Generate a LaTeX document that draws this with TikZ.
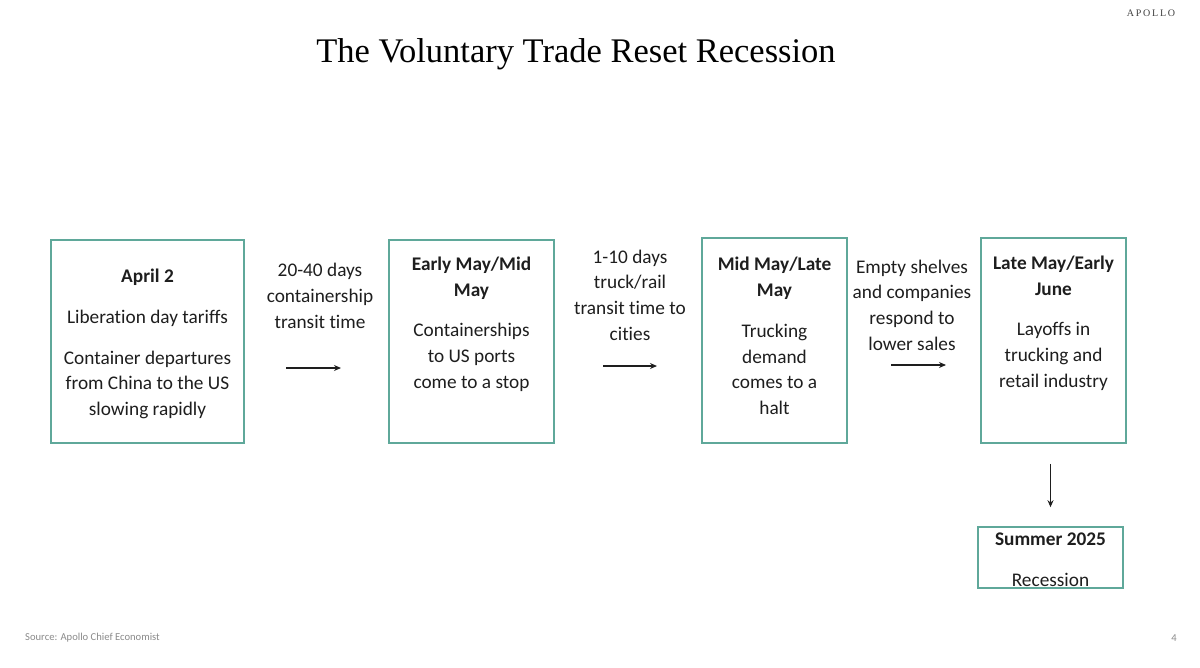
\documentclass[tikz,border=0pt]{standalone}
\usepackage{fontspec}
\setmainfont{Carlito}[Ligatures=NoCommon]
\newfontfamily\titlefont{Liberation Serif}
\usetikzlibrary{shapes,arrows,arrows.meta}
\definecolor{apolloteal}{HTML}{5FA89A}
\definecolor{inkgray}{HTML}{1E1E1E}
\definecolor{notegray}{HTML}{8A8A8A}
\tikzstyle{stage} = [rectangle, draw=apolloteal, line width=1.6pt, inner sep=0pt]
\tikzstyle{stagetext} = [align=center, inner sep=0pt, text=inkgray, font=\fontsize{19.3}{25.7}\selectfont]
\tikzstyle{lag} = [align=center, inner sep=0pt, text=inkgray, font=\fontsize{19.3}{25.7}\selectfont]
\tikzstyle{arrow} = [line width=1.2pt, -{Stealth[length=7pt,width=6pt]}, draw=inkgray]
\tikzstyle{note} = [inner sep=0pt, text=notegray, font=\fontsize{10.6}{12}\selectfont]

\begin{document}
\begin{tikzpicture}[x=1pt, y=-1pt]
\useasboundingbox (0,0) rectangle (1200,667);

% header
\node [font=\titlefont\fontsize{34.5}{38}\selectfont, text=black] (title) at (576,54) {The Voluntary Trade Reset Recession};
\node [note, font=\titlefont\fontsize{10}{11}\selectfont\addfontfeatures{LetterSpace=18}, text=inkgray!85] (brand) at (1151,13) {APOLLO};

% stages
\node [stage, minimum width=193pt, minimum height=203pt] (april) at (147.5,341.5) {};
\node [stage, minimum width=165pt, minimum height=203pt] (early) at (471.5,341.5) {};
\node [stage, minimum width=145pt, minimum height=205pt] (mid) at (774.5,340.5) {};
\node [stage, minimum width=145pt, minimum height=205pt] (late) at (1053.5,340.5) {};
\node [stage, minimum width=145pt, minimum height=61pt] (summer) at (1050.5,557.5) {};

\node [stagetext] (aprilText) at (147.5,344) {\textbf{April 2}\\[15pt]Liberation day tariffs\\[15pt]Container departures\\from China to the US\\slowing rapidly};
\node [stagetext] (earlyText) at (471.5,324) {\textbf{Early May/Mid}\\\textbf{May}\\[15pt]Containerships\\to US ports\\come to a stop};
\node [stagetext] (midText) at (774.5,336) {\textbf{Mid May/Late}\\\textbf{May}\\[15pt]Trucking\\demand\\comes to a\\halt};
\node [stagetext] (lateText) at (1053.5,323) {\textbf{Late May/Early}\\\textbf{June}\\[15pt]Layoffs in\\trucking and\\retail industry};
\node [stagetext] (summerText) at (1050.5,560) {\textbf{Summer 2025}\\[15pt]Recession};

% lags between stages
\node [lag] (ship) at (320,296) {20-40 days\\containership\\transit time};
\node [lag] (truck) at (630,295) {1-10 days\\truck/rail\\transit time to\\cities};
\node [lag] (shelf) at (912,305) {Empty shelves\\and companies\\respond to\\lower sales};

\coordinate (shipA) at (286,368);
\coordinate (shipB) at (341,368);
\coordinate (truckA) at (603,366);
\coordinate (truckB) at (657,366);
\coordinate (shelfA) at (891,365);
\coordinate (shelfB) at (946,365);
\draw [arrow] (shipA) -- (shipB);
\draw [arrow] (truckA) -- (truckB);
\draw [arrow] (shelfA) -- (shelfB);
\draw [arrow] ([yshift=-20pt]late.south -| summer.north) -- ([yshift=19pt]summer.north);

% footer
\node [note, anchor=west] (source) at (25,638) {Source: Apollo Chief Economist};
\node [note] (page) at (1174,638) {4};
\end{tikzpicture}
\end{document}
